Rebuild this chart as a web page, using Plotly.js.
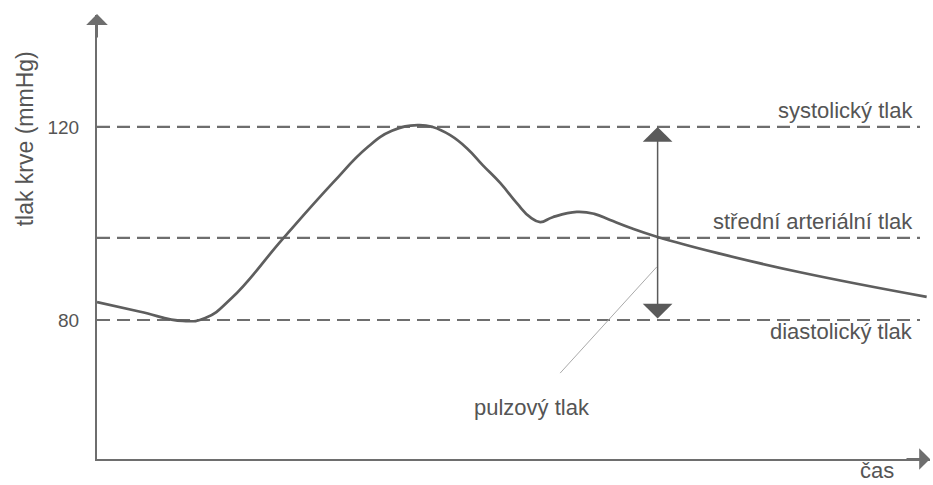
<!DOCTYPE html>
<html>
<head>
<meta charset="utf-8">
<script src="https://cdn.plot.ly/plotly-3.0.1.min.js"></script>
<style>html,body{margin:0;padding:0;background:#fff;}#chart{width:933px;height:485px;}</style>
</head>
<body>
<div id="chart"></div>
<script>
// ---- data ----
const time = [0, 5.2, 10.3, 13.0, 16.2, 22.3, 28.3, 32.4, 35.4, 38.5, 40.3, 42.4, 44.4, 46.3, 48.4, 50.4, 52.0, 53.2, 54.7, 57.6, 59.7, 61.6, 64.0, 67.3, 74.4, 84.4, 99.6];
const pressure = [83.7, 81.7, 79.8, 80.4, 84.6, 96.8, 108.4, 115.7, 119.2, 120.4, 120.0, 118.3, 115.6, 112.1, 108.4, 104.2, 101.3, 100.3, 101.3, 102.4, 102.0, 100.7, 99.1, 97.2, 93.9, 89.9, 84.8];
const levelNames = ["systolický tlak", "střední arteriální tlak", "diastolický tlak"];
const levelValues = [120, 97, 80];
const levelLabelY = [123.5, 100.5, 77.7];
const tickValues = [80, 120];
const tickLabels = ["80", "120"];
const pulseX = 67.3;            // time of the pulse-pressure arrow
const pulseRange = [80, 120];   // diastolic -> systolic
const pointerX = [55.6, 67.2];
const pointerY = [69.0, 91.0];
const pulseLabel = "pulzový tlak";
const pulseLabelPos = [52.2, 61.8];
const xTitle = "čas";
const yTitle = "tlak krve (mmHg)";

const textColor = "#555";
const font = "Liberation Sans, Arial, sans-serif";

const traces = [
  {x: time, y: pressure, mode: "lines", line: {color: "#5e5e5e", width: 2.7, shape: "spline", smoothing: 1.3}, hoverinfo: "skip"},
  {x: pointerX, y: pointerY, mode: "lines", line: {color: "#aaa", width: 1}, hoverinfo: "skip"}
];

const shapes = levelValues.map(v => ({
  type: "line", xref: "paper", yref: "y", x0: 0, x1: 0.988, y0: v, y1: v,
  line: {color: "#6e6e6e", width: 2.2, dash: "13px,7px"}, layer: "below"
}));

const annotations = [];
levelNames.forEach((n, i) => annotations.push({
  text: n, xref: "paper", yref: "y", x: 0.982, y: levelLabelY[i],
  xanchor: "right", yanchor: "middle", showarrow: false,
  font: {family: font, size: 22, color: textColor}
}));
annotations.push({
  text: pulseLabel, xref: "x", yref: "y", x: pulseLabelPos[0], y: pulseLabelPos[1],
  xanchor: "center", yanchor: "middle", showarrow: false,
  font: {family: font, size: 22, color: textColor}
});
annotations.push({
  text: xTitle, xref: "paper", yref: "paper", x: 0.936, y: -0.027,
  xanchor: "center", yanchor: "middle", showarrow: false,
  font: {family: font, size: 22, color: textColor}
});
annotations.push({
  text: yTitle, xref: "paper", yref: "paper", x: -0.0864, y: 0.72, textangle: -90,
  xanchor: "center", yanchor: "middle", showarrow: false,
  font: {family: font, size: 23, color: textColor}
});
// double arrow (pulse pressure)
annotations.push({
  text: "", xref: "x", yref: "y", axref: "x", ayref: "y",
  x: pulseX, y: pulseRange[1], ax: pulseX, ay: pulseRange[0],
  showarrow: true, arrowside: "end+start", arrowhead: 1, startarrowhead: 1,
  arrowsize: 3.3, startarrowsize: 3.3, arrowwidth: 1.5, arrowcolor: "#5a5a5a"
});
// axis arrows
annotations.push({
  text: "", xref: "paper", yref: "paper", x: 0, y: 1.002, ax: 0, ay: 25,
  showarrow: true, arrowhead: 1, arrowsize: 1.8, arrowwidth: 2, arrowcolor: "#6e6e6e"
});
annotations.push({
  text: "", xref: "paper", yref: "paper", x: 1.0, y: 0, ax: -25, ay: 0,
  showarrow: true, arrowhead: 1, arrowsize: 1.8, arrowwidth: 2, arrowcolor: "#6e6e6e"
});

const layout = {
  width: 933, height: 485,
  margin: {l: 97, r: 3, t: 15, b: 26},
  paper_bgcolor: "#fff", plot_bgcolor: "#fff",
  showlegend: false,
  xaxis: {range: [0, 100], showgrid: false, zeroline: false, showticklabels: false, ticks: "",
          showline: true, linecolor: "#6e6e6e", linewidth: 2, fixedrange: true},
  yaxis: {range: [51.2, 143.2], showgrid: false, zeroline: false, ticks: "",
          tickvals: tickValues, ticktext: tickLabels, ticklabelstandoff: 12,
          tickfont: {family: font, size: 19, color: textColor},
          showline: true, linecolor: "#6e6e6e", linewidth: 2, fixedrange: true},
  shapes: shapes,
  annotations: annotations
};

Plotly.newPlot("chart", traces, layout, {displayModeBar: false, staticPlot: true});
</script>
</body>
</html>
